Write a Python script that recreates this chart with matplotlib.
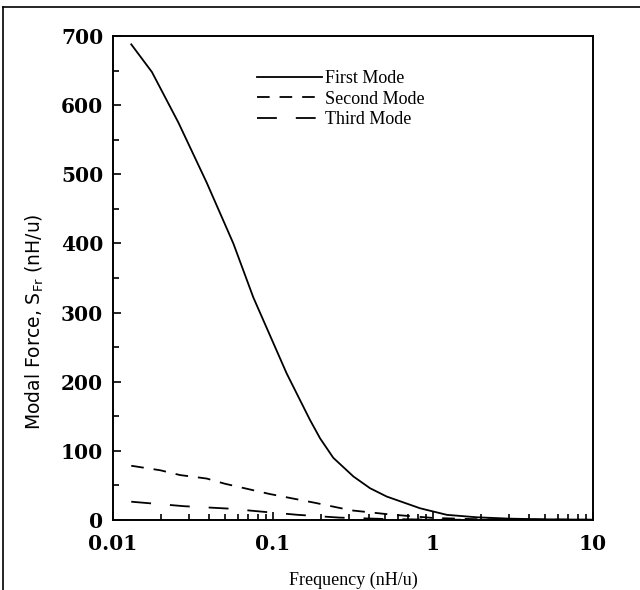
import matplotlib
matplotlib.use("Agg")
import matplotlib.pyplot as plt
from matplotlib.lines import Line2D
from matplotlib.ticker import FixedLocator, NullFormatter

# values
first_freq = [0.013, 0.0175, 0.0256, 0.0385, 0.0565, 0.0753, 0.1217, 0.170, 0.197,
              0.238, 0.318, 0.404, 0.513, 0.83, 1.22, 1.87, 3.0, 5.0, 10.0]
first_force = [688, 648, 575, 488, 400, 322, 212, 145, 118,
               90, 63, 46, 34, 17, 7.5, 4, 2, 1, 0.5]

second_freq = [0.013, 0.0197, 0.0263, 0.0385, 0.050, 0.0955, 0.182, 0.308, 0.54,
               1.0, 2.0, 10.0]
second_force = [78.5, 72, 65, 60, 52.5, 37.6, 25, 14, 8, 3, 1, 0.3]

third_freq = [0.013, 0.0278, 0.053, 0.09, 0.143, 0.26, 0.5, 1.0, 10.0]
third_force = [26.5, 20, 16.5, 11.6, 7.5, 3.5, 1.5, 0.5, 0.1]

x_ticks = [0.01, 0.1, 1, 10]
x_ticklabels = ["0.01", "0.1", "1", "10"]
y_ticks = [0, 100, 200, 300, 400, 500, 600, 700]

fig = plt.figure(figsize=(6.4, 5.9), dpi=100)
ax = fig.add_axes([0.1766, 0.1186, 0.75, 0.8203])

ax.plot(first_freq, first_force, color="black", lw=1.3, label="First Mode")
ax.plot(second_freq, second_force, color="black", lw=1.3, dashes=(7, 5.5),
        label="Second Mode")
ax.plot(third_freq, third_force, color="black", lw=1.3, dashes=(11, 10.5),
        label="Third Mode")

ax.set_xscale("log")
ax.set_xlim(0.01, 10)
ax.set_ylim(0, 700)

ax.xaxis.set_major_locator(FixedLocator(x_ticks))
ax.set_xticklabels(x_ticklabels)
minor_x = [m * d for d in [0.01, 0.1, 1] for m in range(2, 10)]
ax.xaxis.set_minor_locator(FixedLocator(minor_x))
ax.xaxis.set_minor_formatter(NullFormatter())
ax.set_yticks(y_ticks)
ax.yaxis.set_minor_locator(FixedLocator([50, 150, 250, 350, 450, 550, 650]))

for sp in ax.spines.values():
    sp.set_linewidth(1.4)

tick_font = {"family": "DejaVu Serif", "weight": "bold", "size": 14.5}
ax.tick_params(which="both", direction="in", top=False, right=False, width=1.2)
ax.tick_params(which="major", length=6)
ax.tick_params(which="minor", length=4)
ax.tick_params(axis="x", which="major", pad=10)
ax.tick_params(axis="y", which="major", pad=7)
for lab in ax.get_xticklabels() + ax.get_yticklabels():
    lab.set_fontfamily(tick_font["family"])
    lab.set_fontweight(tick_font["weight"])
    lab.set_fontsize(tick_font["size"])

ax.set_xlabel("Frequency (nH/u)", family="Liberation Serif", fontsize=13, labelpad=13)
ax.set_ylabel(r"Modal Force, S$_{\mathrm{Fr}}$ (nH/u)", family="DejaVu Sans",
              fontsize=13.5)
ax.yaxis.set_label_coords(-0.14, 0.41)

ax.legend(loc="upper left", bbox_to_anchor=(0.30, 0.93), frameon=False,
          prop={"family": "Liberation Serif", "size": 13}, handlelength=3.6,
          handletextpad=0.15, labelspacing=0.2, borderaxespad=0, borderpad=0)

# frame drawn around the figure in the scan
fig.add_artist(Line2D([0.004, 0.004], [0, 0.988], transform=fig.transFigure,
                      color="black", lw=1.2))
fig.add_artist(Line2D([0.004, 1.0], [0.988, 0.988], transform=fig.transFigure,
                      color="black", lw=1.2))

fig.savefig("out.png", dpi=100)
